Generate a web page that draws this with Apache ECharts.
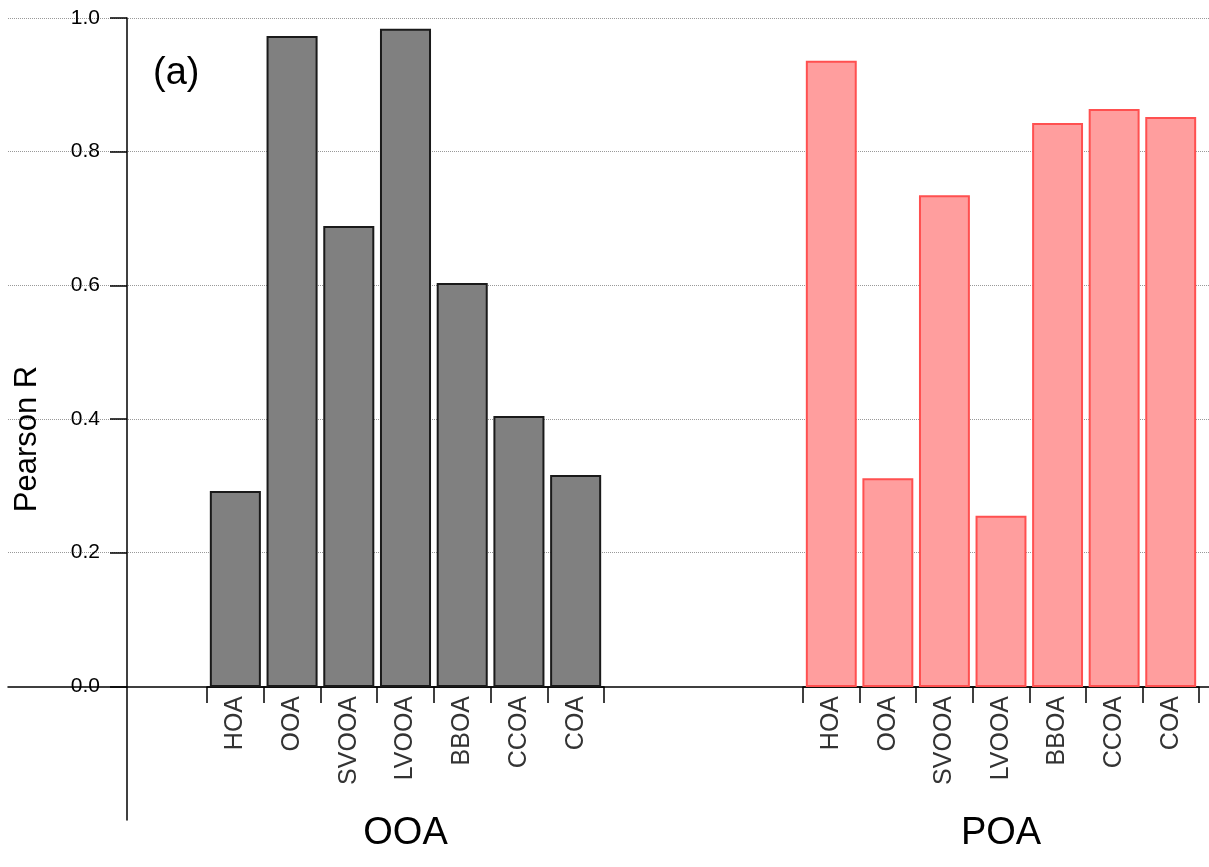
<!DOCTYPE html>
<html>
<head>
<meta charset="utf-8">
<script src="https://cdn.jsdelivr.net/npm/echarts@6/dist/echarts.min.js"></script>
<style>
html,body{margin:0;padding:0;background:#fff;}
#chart{width:1209px;height:867px;}
</style>
</head>
<body>
<div id="chart"></div>
<script>
const groupNames = ['OOA', 'POA'];
const categories = ['HOA', 'OOA', 'SVOOA', 'LVOOA', 'BBOA', 'CCOA', 'COA'];
const ooaValues = [0.293, 0.973, 0.689, 0.984, 0.604, 0.405, 0.317];
const poaValues = [0.936, 0.312, 0.735, 0.256, 0.843, 0.864, 0.852];
const yTickValues = [0, 0.2, 0.4, 0.6, 0.8, 1.0];
const panelLabel = '(a)';
const yAxisTitle = 'Pearson R';

const FONT = 'Liberation Sans, Arial, sans-serif';
const chart = echarts.init(document.getElementById('chart'), null, {renderer: 'canvas'});

const hiddenY = (gi) => ({
  type: 'value', gridIndex: gi, min: 0, max: 1.0, interval: 0.2, show: false
});
const catX = (gi, name) => ({
  type: 'category', gridIndex: gi, data: categories,
  name: name, nameLocation: 'middle', nameGap: 128,
  nameTextStyle: {fontSize: 38, color: '#000', fontFamily: FONT},
  axisLine: {show: true, onZero: false, lineStyle: {color: '#000', width: 1.5}},
  axisTick: {show: true, length: 16, lineStyle: {color: '#000', width: 1.5}},
  axisLabel: {rotate: 90, fontSize: 25, color: '#333', margin: 9, fontFamily: FONT, interval: 0},
  splitLine: {show: false}
});
const barGrid = {top: 18, bottom: 180, containLabel: false, outerBoundsMode: 'none'};

const option = {
  backgroundColor: '#fff',
  animation: false,
  title: {
    text: panelLabel, left: 148, top: 50,
    textStyle: {fontSize: 38, fontWeight: 'normal', color: '#000', fontFamily: FONT}
  },
  grid: [
    {left: 8, right: 0, top: 18, bottom: 47, containLabel: false, outerBoundsMode: 'none'},
    Object.assign({left: 207, right: 605}, barGrid),
    Object.assign({left: 803, right: 10}, barGrid)
  ],
  xAxis: [
    {
      type: 'category', gridIndex: 0, data: [''],
      axisLine: {show: true, onZero: true, lineStyle: {color: '#000', width: 1.5}},
      axisTick: {show: false}, axisLabel: {show: false}, splitLine: {show: false}
    },
    catX(1, groupNames[0]),
    catX(2, groupNames[1])
  ],
  yAxis: [
    {
      type: 'value', gridIndex: 0, min: -0.2, max: 1.0, interval: 0.2,
      offset: -119,
      name: yAxisTitle, nameLocation: 'middle', nameGap: 84, nameRotate: 90,
      nameTextStyle: {fontSize: 31, color: '#000', fontFamily: FONT, padding: [0, 40, 0, 0]},
      axisLine: {show: true, lineStyle: {color: '#000', width: 1.5}},
      axisTick: {show: true, length: 17, customValues: yTickValues, lineStyle: {color: '#000', width: 1.5}},
      axisLabel: {
        customValues: yTickValues, fontSize: 21, color: '#000', margin: 27, fontFamily: FONT,
        formatter: (v) => v.toFixed(1)
      },
      splitLine: {show: true, showMinLine: false, lineStyle: {color: '#999', type: 'dotted', width: 1}}
    },
    hiddenY(1),
    hiddenY(2)
  ],
  series: [
    {
      type: 'bar', xAxisIndex: 1, yAxisIndex: 1, data: ooaValues, barWidth: '90%',
      itemStyle: {color: '#808080', borderColor: '#1a1a1a', borderWidth: 2}
    },
    {
      type: 'bar', xAxisIndex: 2, yAxisIndex: 2, data: poaValues, barWidth: '90%',
      itemStyle: {color: '#ff9e9e', borderColor: '#ff5050', borderWidth: 2}
    }
  ]
};
chart.setOption(option);
</script>
</body>
</html>
